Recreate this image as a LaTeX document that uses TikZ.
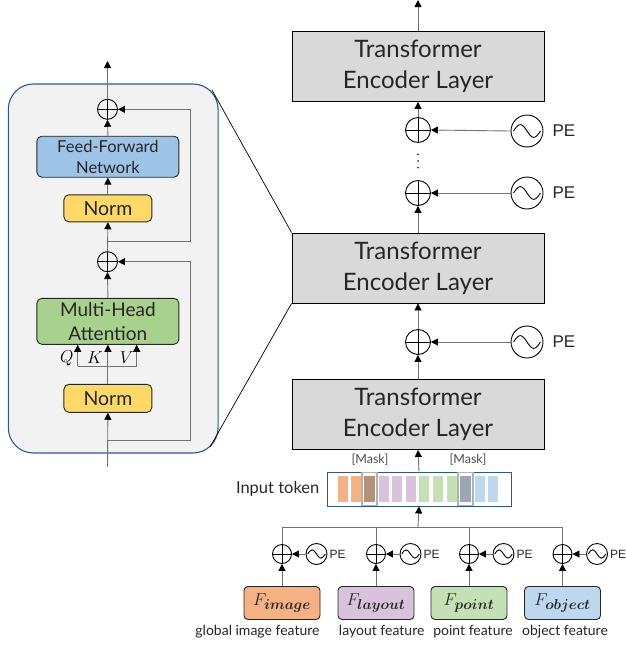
\documentclass[tikz,border=0pt]{standalone}
\usepackage{amsmath,amssymb}
\usepackage{fontspec}
\setmainfont{Lato}
\newfontfamily\pefont{Liberation Sans}
\usetikzlibrary{positioning,arrows.meta}

\definecolor{layergray}{HTML}{D9D9D9}
\definecolor{panelgray}{HTML}{F2F2F2}
\definecolor{panelblue}{HTML}{2F5597}
\definecolor{ffnblue}{HTML}{9DC3E6}
\definecolor{normyellow}{HTML}{FFD966}
\definecolor{mhagreen}{HTML}{A9D18E}
\definecolor{forange}{HTML}{F4B183}
\definecolor{fpurple}{HTML}{D9C3DC}
\definecolor{fgreen}{HTML}{C5E0B4}
\definecolor{fblue}{HTML}{BDD7EE}
\definecolor{maskA}{HTML}{B39279}
\definecolor{maskB}{HTML}{9DA7B3}

\begin{document}
\begin{tikzpicture}[x=1pt, y=-1pt,
            layer/.style={draw, fill=layergray, line width=0.9pt, minimum width=252pt, minimum height=70pt,
                inner sep=0pt, align=center, text=black!85, font=\fontsize{24}{31}\selectfont},
            blk/.style={draw=black!85, rounded corners=5pt, line width=0.9pt, inner sep=0pt, align=center,
                text=black!85},
            feat/.style={blk, rounded corners=4pt, minimum width=76pt, minimum height=33pt,
                font=\fontsize{19}{22}\selectfont},
            addc/.style={circle, draw, line width=0.9pt, minimum size=#1, inner sep=0pt,
                path picture={\draw[line width=0.9pt] (path picture bounding box.north) -- (path picture bounding box.south)
                    (path picture bounding box.west) -- (path picture bounding box.east);}},
            pewave/.style={circle, draw, line width=0.9pt, minimum size=#1, inner sep=0pt,
                path picture={\draw[line width=0.9pt] ([xshift=-0.42*#1]path picture bounding box.center)
                    sin ++(0.21*#1,0.2*#1) cos ++(0.21*#1,-0.2*#1) sin ++(0.21*#1,-0.2*#1) cos ++(0.21*#1,0.2*#1);}},
            line/.style={draw=black!55, line width=0.9pt},
            arr/.style={line, -{Triangle[black, length=7pt, width=7pt]}},
            lbl/.style={inner sep=0pt, text=black!85}
        ]
        \useasboundingbox (0,0) rectangle (625,645);

        % encoder layer, opened up on the left
        \node[draw=panelblue, fill=panelgray, line width=1.1pt, rounded corners=25pt,
              minimum width=209.7pt, minimum height=369pt] (enc) at (113.2,268.5) {};
        \node[blk, fill=ffnblue, minimum width=142pt, minimum height=41pt,
              font=\fontsize{16.5}{20.7}\selectfont] (ffn) at (107.9,156.7) {Feed-Forward\\Network};
        \node[blk, fill=normyellow, minimum width=88pt, minimum height=27pt,
              font=\fontsize{19.5}{22}\selectfont] (norm2) at (107.9,208.3) {Norm};
        \node[blk, fill=mhagreen, minimum width=142pt, minimum height=46pt,
              font=\fontsize{19}{24}\selectfont] (mha) at (107.9,321.3) {Multi-Head\\Attention};
        \node[blk, fill=normyellow, minimum width=88pt, minimum height=28pt,
              font=\fontsize{19.5}{22}\selectfont] (norm1) at (107.9,398.3) {Norm};
        \node[addc=20pt] (addA) at (107.5,261.7) {};
        \node[addc=20pt] (addB) at (107.5,109.3) {};

        \coordinate (in)  at (107.5,467);
        \coordinate (top) at (107.5,61);
        \coordinate (r1)  at (107.5,440);
        \coordinate (rx)  at (190.7,440);
        \coordinate (r2)  at (107.5,241.7);
        \coordinate (ry)  at (190.7,241.7);
        \coordinate (q)   at (77.7,366);
        \coordinate (v)   at (136.7,366);

        \draw[arr] (in) -- (norm1.south);
        \draw[arr] (norm1.north) -- (mha.south);
        \draw[line] (q) -- (v);
        \draw[arr] (q) -- (q |- mha.south);
        \draw[arr] (v) -- (v |- mha.south);
        \draw[arr] (mha.north) -- (addA.south);
        \draw[arr] (r1) -- (rx) |- (addA.east);
        \draw[arr] (addA.north) -- (norm2.south);
        \draw[arr] (norm2.north) -- (ffn.south);
        \draw[arr] (ffn.north) -- (addB.south);
        \draw[arr] (r2) -- (ry) |- (addB.east);
        \draw[arr] (addB.north) -- (top);
        \node[lbl, text=black, font=\fontsize{18.5}{20}\selectfont] (lq) at (66.7,358) {$Q$};
        \node[lbl, text=black, font=\fontsize{18.5}{20}\selectfont] (lk) at (95,358) {$K$};
        \node[lbl, text=black, font=\fontsize{18.5}{20}\selectfont] (lv) at (126.7,358) {$V$};

        % stack of encoder layers
        \node[layer] (l3) at (418,66.5) {Transformer\\Encoder Layer};
        \node[layer] (l2) at (418,268) {Transformer\\Encoder Layer};
        \node[layer] (l1) at (418,414.5) {Transformer\\Encoder Layer};

        \node[addc=25pt] (p3) at (418,130) {};
        \node[addc=25pt] (p2) at (418,193) {};
        \node[addc=25pt] (p1) at (418,342) {};
        \node[pewave=32pt] (e3) at (527,131) {};
        \node[pewave=32pt] (e2) at (527,193) {};
        \node[pewave=32pt] (e1) at (527,342) {};
        \foreach \i in {1,2,3} {
            \node[lbl, right=9pt of e\i, font=\pefont\fontsize{17}{20}\selectfont] (t\i) {PE};
            \draw[arr] (e\i.west) -- (p\i.east);
        }
        % layers left out between the two upper ones
        \foreach \y in {154.3,161,167.7}
            \fill[black!80] (418,\y) circle (1pt);

        \coordinate (out) at (418,0);
        \draw[arr] (l3.north) -- (out);
        \draw[arr] (p3.north) -- (l3.south);
        \draw[arr] (l2.north) -- (p2.south);
        \draw[arr] (p1.north) -- (l2.south);
        \draw[arr] (l1.north) -- (p1.south);

        % zoom lines to the opened layer
        \coordinate (zt) at (212,90);
        \coordinate (zb) at (210,447);
        \draw[black, line width=0.7pt] (zt) -- (l2.north west);
        \draw[black, line width=0.7pt] (zb) -- (l2.south west);

        % input tokens
        \node[draw=panelblue, line width=0.9pt, minimum width=184pt, minimum height=34pt] (tok) at (419,489) {};
        \foreach \x/\c in {338.3/forange, 351/forange, 379/fpurple, 392/fpurple, 405.7/fpurple,
                           419.3/fgreen, 432.7/fgreen, 446.7/fgreen, 474.7/fblue, 487.7/fblue}
            \fill[\c] (\x,476) rectangle ++(10,26);
        \draw[gray!60, line width=1.2pt] (362,472.5) rectangle (377,505.5);
        \fill[maskA] (363.6,476) rectangle (375.4,502);
        \draw[gray!60, line width=1.2pt] (458,472.5) rectangle (473,505.5);
        \fill[maskB] (459.6,476) rectangle (471.4,502);
        \node[lbl, text=black!70, font=\fontsize{12.5}{14}\selectfont] (m1) at (370,460) {[Mask]};
        \node[lbl, text=black!70, font=\fontsize{12.5}{14}\selectfont] (m2) at (468,460) {[Mask]};
        \node[lbl, left=7pt of tok, font=\fontsize{16.5}{18}\selectfont] (intok) {Input token};
        \draw[arr] (tok.north) -- (l1.south);

        % input features with their own positional encodings
        \coordinate (bus) at (418,527);
        \foreach \n/\x/\c/\s/\lx/\t in {1/282/forange/image/257.5/global image feature,
                                        2/376/fpurple/layout/381.7/layout feature,
                                        3/469/fgreen/point/473/point feature,
                                        4/562.5/fblue/object/565/object feature} {
            \node[feat, fill=\c] (f\n) at (\x,603) {$F_{\boldsymbol{\s}}$};
            \node[addc=19pt] (o\n) at (\x,554) {};
            \node[pewave=21pt] (pe\n) at (\x+34.5,554) {};
            \node[lbl, right=2pt of pe\n, font=\pefont\fontsize{12}{14}\selectfont] (pt\n) {PE};
            \node[lbl, font=\fontsize{14}{16}\selectfont] (d\n) at (\lx,632) {\t};
            \draw[arr] (f\n.north) -- (o\n.south);
            \draw[arr] (pe\n.west) -- (o\n.east);
            \draw[line] (o\n.north) -- (o\n.north |- bus);
        }
        \draw[line] (o1.north |- bus) -- (o4.north |- bus);
        \draw[arr] (bus) -- (tok.south);
    \end{tikzpicture}
\end{document}
